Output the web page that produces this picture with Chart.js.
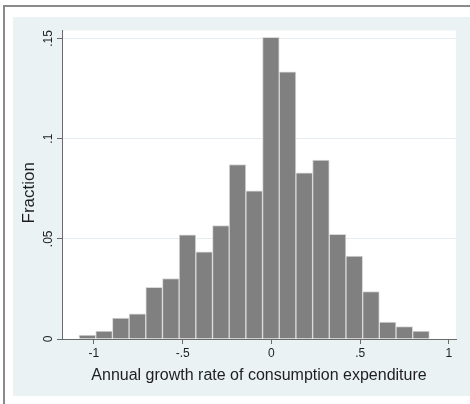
<!DOCTYPE html>
<html>
<head>
<meta charset="utf-8">
<script src="https://cdn.jsdelivr.net/npm/chart.js@4/dist/chart.umd.min.js"></script>
<style>
  html, body { margin: 0; padding: 0; background: #fff; width: 470px; height: 404px; overflow: hidden; }
  #frame { position: absolute; left: 3px; top: 5px; width: 470px; height: 402px;
           border-left: 2px solid #8a8a8a; border-top: 2px solid #8a8a8a; }
  #region { position: absolute; left: 13px; top: 17px; width: 457px; height: 379px; background: #eaf2f3; }
  canvas { display: block; }
</style>
</head>
<body>
<div id="frame"></div>
<div id="region"><canvas id="hist" width="457" height="379"></canvas></div>
<script>
// Histogram bins (centre of each bin) and the fraction of observations in each
const binCenters = [-1.037, -0.943, -0.849, -0.755, -0.661, -0.567, -0.473, -0.379, -0.285, -0.191, -0.097,
                    -0.003, 0.091, 0.185, 0.279, 0.373, 0.467, 0.561, 0.655, 0.749, 0.843];
const fractions = [0.0019, 0.0040, 0.0104, 0.0126, 0.0258, 0.0302, 0.0520, 0.0435, 0.0566, 0.0871, 0.0740,
                   0.1506, 0.1334, 0.0829, 0.0893, 0.0522, 0.0414, 0.0237, 0.0084, 0.0062, 0.0040];

const xTickValues = [-1, -0.5, 0, 0.5, 1];
const xTickLabels = ['-1', '-.5', '0', '.5', '1'];
const yTickValues = [0, 0.05, 0.1, 0.15];
const yTickLabels = ['0', '.05', '.1', '.15'];

const xTitle = 'Annual growth rate of consumption expenditure';
const yTitle = 'Fraction';

const FONT = '"Liberation Sans", Arial, sans-serif';
const TEXT = '#1e1e1e';
const AXIS = '#6a6a6a';

// white plot region behind the bars
const plotBackground = {
  id: 'plotBackground',
  beforeDraw(chart) {
    const { ctx, chartArea: a } = chart;
    ctx.save();
    ctx.fillStyle = '#ffffff';
    ctx.fillRect(a.left, a.top, a.right - a.left, a.bottom - a.top);
    ctx.restore();
  }
};

// rotated y tick labels and y axis title
const verticalText = {
  id: 'verticalText',
  afterDraw(chart) {
    const { ctx, chartArea: a } = chart;
    const ys = chart.scales.y;
    ctx.save();
    ctx.fillStyle = TEXT;
    ctx.textAlign = 'center';
    ctx.textBaseline = 'middle';
    ctx.font = '12px ' + FONT;
    yTickValues.forEach((v, i) => {
      ctx.save();
      ctx.translate(ys.right - 13, ys.getPixelForValue(v));
      ctx.rotate(-Math.PI / 2);
      ctx.fillText(yTickLabels[i], 0, 0);
      ctx.restore();
    });
    ctx.font = '17px ' + FONT;
    ctx.translate(16, (a.top + a.bottom) / 2 + 8);
    ctx.rotate(-Math.PI / 2);
    ctx.fillText(yTitle, 0, 0);
    ctx.restore();
  }
};

new Chart(document.getElementById('hist'), {
  type: 'bar',
  data: {
    datasets: [{
      data: binCenters.map((x, i) => ({ x: x, y: fractions[i] })),
      backgroundColor: '#808080',
      borderColor: '#d9d9d9',
      borderWidth: 1,
      barPercentage: 1,
      categoryPercentage: 1
    }]
  },
  options: {
    responsive: false,
    animation: false,
    events: [],
    layout: { padding: { top: 13.5, right: 14, left: 0, bottom: 0 } },
    plugins: { legend: { display: false }, tooltip: { enabled: false } },
    scales: {
      x: {
        type: 'linear',
        offset: false,
        min: -1.18,
        max: 1.04,
        afterBuildTicks: s => { s.ticks = xTickValues.map(v => ({ value: v })); },
        afterFit: s => { s.height = 57; },
        grid: { offset: false, drawOnChartArea: false, drawTicks: true, tickLength: 5, tickColor: AXIS },
        border: { display: true, color: AXIS, width: 1 },
        ticks: {
          padding: 2, color: TEXT, maxRotation: 0, autoSkip: false,
          font: { family: FONT, size: 12 },
          callback: (v, i) => xTickLabels[i]
        },
        title: {
          display: true, text: xTitle, color: TEXT,
          font: { family: FONT, size: 16 },
          padding: { top: 0, bottom: 11 }
        }
      },
      y: {
        min: 0,
        max: 0.154,
        afterBuildTicks: s => { s.ticks = yTickValues.map(v => ({ value: v })); },
        afterFit: s => { s.width = 49; },
        grid: { color: '#e3edef', lineWidth: 1, drawTicks: true, tickLength: 5, tickColor: AXIS },
        border: { display: true, color: AXIS, width: 1 },
        ticks: { display: false }
      }
    }
  },
  plugins: [plotBackground, verticalText]
});
</script>
</body>
</html>
